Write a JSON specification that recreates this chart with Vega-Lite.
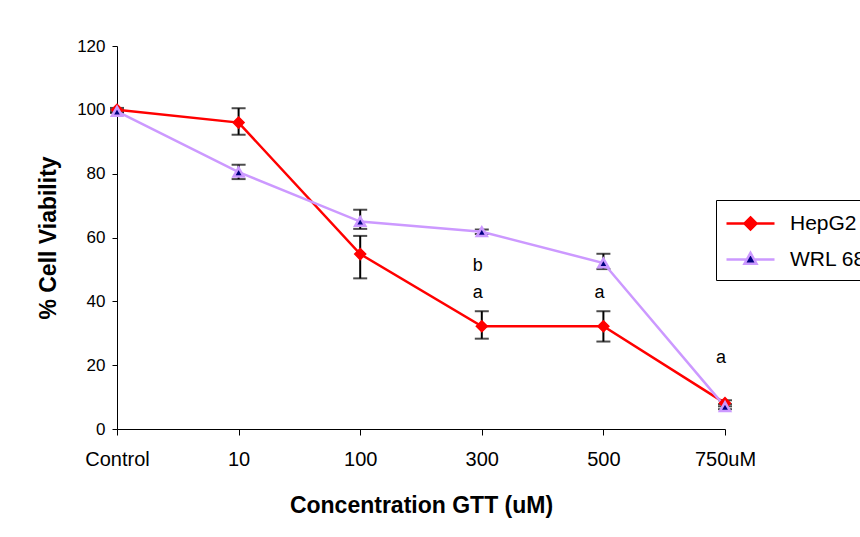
{
  "$schema": "https://vega.github.io/schema/vega-lite/v6.json",
  "width": 608,
  "height": 383,
  "autosize": {"type": "none"},
  "padding": {"left": 117, "top": 46, "right": 135, "bottom": 108},
  "background": "white",
  "config": {
    "view": {"stroke": null},
    "font": "Liberation Sans",
    "axis": {"grid": false, "domainColor": "black", "tickColor": "black", "labelColor": "black", "titleColor": "black", "labelFont": "Liberation Sans", "titleFont": "Liberation Sans", "titleFontWeight": "bold"}
  },
  "datasets": {
    "main": [
      {"conc": "Control", "series": "HepG2", "v": 100, "lo": 99.4, "hi": 100.6},
      {"conc": "10", "series": "HepG2", "v": 96, "lo": 92.2, "hi": 100.5},
      {"conc": "100", "series": "HepG2", "v": 54.8, "lo": 47.2, "hi": 60.5},
      {"conc": "300", "series": "HepG2", "v": 32.2, "lo": 28.3, "hi": 36.9},
      {"conc": "500", "series": "HepG2", "v": 32.2, "lo": 27.4, "hi": 36.9},
      {"conc": "750uM", "series": "HepG2", "v": 8.1, "lo": 7.1, "hi": 9.0},
      {"conc": "Control", "series": "WRL 68", "v": 99.5, "lo": 99.0, "hi": 100.0},
      {"conc": "10", "series": "WRL 68", "v": 80.5, "lo": 78.3, "hi": 82.8},
      {"conc": "100", "series": "WRL 68", "v": 65, "lo": 62.7, "hi": 68.7},
      {"conc": "300", "series": "WRL 68", "v": 61.8, "lo": 61.1, "hi": 62.5},
      {"conc": "500", "series": "WRL 68", "v": 52, "lo": 50.1, "hi": 54.9},
      {"conc": "750uM", "series": "WRL 68", "v": 7.0, "lo": 6.2, "hi": 7.8}
    ],
    "notes": [
      {"conc": "300", "y": 51.2, "label": "b"},
      {"conc": "300", "y": 42.7, "label": "a"},
      {"conc": "500", "y": 42.7, "label": "a"},
      {"conc": "750uM", "y": 22.3, "label": "a"}
    ]
  },
  "encoding": {
    "x": {
      "field": "conc", "type": "nominal",
      "sort": ["Control", "10", "100", "300", "500", "750uM"],
      "scale": {"type": "point", "padding": 0},
      "axis": {"title": "Concentration GTT (uM)", "labelAngle": 0, "labelFontSize": 20, "tickSize": 6, "labelPadding": 14, "titleFontSize": 23, "titlePadding": 25}
    }
  },
  "layer": [
    {
      "data": {"name": "main"},
      "mark": {"type": "rule", "color": "black", "strokeWidth": 2},
      "encoding": {
        "y": {"field": "lo", "type": "quantitative", "scale": {"domain": [0, 120], "nice": false},
          "axis": {"title": "% Cell Viability", "values": [0, 20, 40, 60, 80, 100, 120], "labelFontSize": 17, "tickSize": 5, "labelPadding": 7, "titleFontSize": 23, "titlePadding": 16}},
        "y2": {"field": "hi"}
      }
    },
    {
      "data": {"name": "main"},
      "mark": {"type": "tick", "color": "black", "thickness": 2, "size": 14},
      "encoding": {"y": {"field": "lo", "type": "quantitative"}}
    },
    {
      "data": {"name": "main"},
      "mark": {"type": "tick", "color": "black", "thickness": 2, "size": 14},
      "encoding": {"y": {"field": "hi", "type": "quantitative"}}
    },
    {
      "data": {"name": "main"},
      "mark": {"type": "line", "strokeWidth": 2.5},
      "encoding": {
        "y": {"field": "v", "type": "quantitative"},
        "stroke": {
          "field": "series", "type": "nominal",
          "scale": {"domain": ["HepG2", "WRL 68"], "range": ["#FF0000", "#CC99FF"]},
          "legend": {
            "orient": "none", "legendX": 599, "legendY": 154, "title": null,
            "strokeColor": "black", "fillColor": "white", "padding": 10,
            "symbolSize": 576, "symbolStrokeWidth": 2.5, "symbolOffset": 11, "labelOffset": 26, "rowPadding": 11,
            "labelFont": "Liberation Sans", "labelFontSize": 21, "labelColor": "black",
            "encode": {"symbols": {"update": {
              "shape": {"signal": "datum.value === 'HepG2' ? 'M-2,0L2,0M0,-0.5L0.5,0L0,0.5L-0.5,0Z' : 'M-2,0L-0.3,0M0.3,0L2,0M0,-0.55L0.5,0.35L-0.5,0.35Z'"},
              "fill": {"signal": "datum.value === 'HepG2' ? '#FF0000' : '#000080'"},
              "stroke": {"signal": "datum.value === 'HepG2' ? '#FF0000' : '#CC99FF'"},
              "opacity": {"value": 1}
            }}}
          }
        },
        "order": {"value": null}
      }
    },
    {
      "data": {"name": "main"},
      "transform": [{"filter": "datum.series === 'HepG2'"}],
      "mark": {"type": "point", "shape": "diamond", "filled": true, "fill": "#FF0000", "stroke": "#FF0000", "strokeWidth": 1.5, "opacity": 1, "size": 120},
      "encoding": {"y": {"field": "v", "type": "quantitative"}}
    },
    {
      "data": {"name": "main"},
      "transform": [{"filter": "datum.series === 'WRL 68'"}],
      "mark": {"type": "point", "shape": "triangle-up", "filled": true, "fill": "#000080", "stroke": "#CC99FF", "strokeWidth": 2.5, "opacity": 1, "size": 100},
      "encoding": {"y": {"field": "v", "type": "quantitative"}}
    },
    {
      "data": {"name": "notes"},
      "mark": {"type": "text", "fontSize": 18, "font": "Liberation Sans", "color": "black", "dx": -4},
      "encoding": {
        "y": {"field": "y", "type": "quantitative"},
        "text": {"field": "label"}
      }
    }
  ]
}
